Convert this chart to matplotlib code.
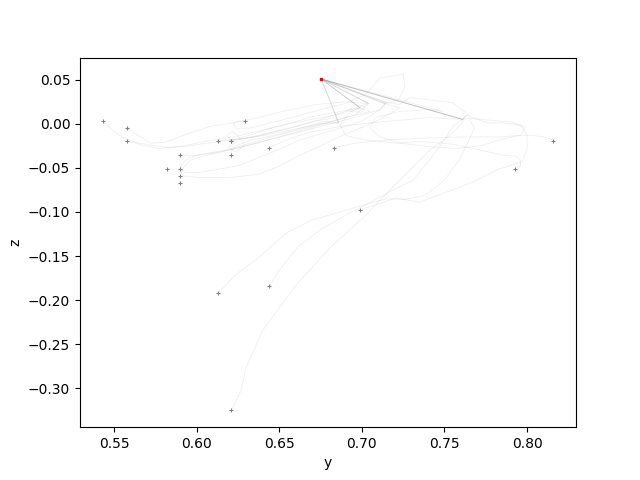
import matplotlib
matplotlib.use("Agg")
import matplotlib.pyplot as plt

# goal point (red)
goal_y = 0.6754
goal_z = 0.0508

# trajectories (y, z), each starts at a "+" marker and ends with a jump to the goal
path_y = [
    [0.543, 0.553, 0.566, 0.578, 0.592, 0.608, 0.622, 0.638, 0.655, 0.670, 0.687, 0.699],
    [0.558, 0.566, 0.572, 0.581, 0.592, 0.608, 0.622, 0.635, 0.652, 0.673, 0.690, 0.704],
    [0.558, 0.572, 0.582, 0.592, 0.606, 0.622, 0.638, 0.657, 0.675, 0.686],
    [0.582, 0.590, 0.593, 0.602, 0.612, 0.626, 0.646, 0.663, 0.683, 0.699, 0.711, 0.715],
    [0.590, 0.599, 0.611, 0.626, 0.644, 0.663, 0.681, 0.693, 0.711, 0.714],
    [0.590, 0.592, 0.595, 0.602, 0.617, 0.635, 0.653, 0.672, 0.690, 0.705, 0.699],
    [0.590, 0.602, 0.620, 0.638, 0.650, 0.663, 0.675, 0.687, 0.699, 0.711, 0.723, 0.714],
    [0.590, 0.590, 0.592, 0.596, 0.608, 0.626, 0.644, 0.663, 0.681, 0.696, 0.704],
    [0.613, 0.623, 0.632, 0.641, 0.656, 0.675, 0.690, 0.696, 0.702, 0.700, 0.693, 0.699],
    [0.621, 0.618, 0.622, 0.626, 0.629, 0.624, 0.619, 0.626, 0.638, 0.657, 0.675, 0.690, 0.704],
    [0.621, 0.635, 0.653, 0.672, 0.684, 0.686],
    [0.621, 0.621, 0.624, 0.632, 0.647, 0.663, 0.678, 0.686],
    [0.629, 0.625, 0.622, 0.624, 0.632, 0.647, 0.663, 0.675, 0.690, 0.702, 0.711, 0.725, 0.726, 0.722, 0.714],
    [0.644, 0.655, 0.667, 0.687, 0.705, 0.723, 0.741, 0.761],
    [0.683, 0.696, 0.717, 0.741, 0.760, 0.784, 0.796, 0.799, 0.790, 0.772, 0.765, 0.761],
    [0.699, 0.711, 0.721, 0.735, 0.752, 0.766, 0.782, 0.797, 0.800, 0.800, 0.796, 0.784,
     0.776, 0.766, 0.755, 0.741, 0.729, 0.723, 0.715],
    [0.613, 0.623, 0.638, 0.655, 0.670, 0.687, 0.699, 0.715, 0.726, 0.738, 0.750, 0.759,
     0.765, 0.768, 0.764, 0.761],
    [0.644, 0.650, 0.661, 0.675, 0.690, 0.702, 0.719, 0.731, 0.741, 0.750, 0.756, 0.761],
    [0.621, 0.627, 0.630, 0.640, 0.661, 0.681, 0.701, 0.717, 0.731, 0.741, 0.752, 0.760, 0.763, 0.761],
    [0.793, 0.796, 0.796, 0.793, 0.784, 0.772, 0.755, 0.735, 0.721, 0.701, 0.690, 0.687, 0.693, 0.699],
    [0.816, 0.811, 0.802, 0.793, 0.784, 0.772, 0.757, 0.741, 0.723, 0.711, 0.705, 0.708, 0.723, 0.741, 0.749],
]
path_z = [
    [0.003, -0.013, -0.024, -0.028, -0.025, -0.019, -0.015, -0.008, 0.000, 0.008, 0.014, 0.018],
    [-0.005, -0.015, -0.022, -0.021, -0.013, -0.003, 0.001, 0.006, 0.014, 0.022, 0.025, 0.023],
    [-0.020, -0.024, -0.027, -0.026, -0.022, -0.018, -0.014, -0.007, 0.000, 0.001],
    [-0.051, -0.052, -0.055, -0.055, -0.052, -0.047, -0.032, -0.018, -0.007, 0.002, 0.016, 0.024],
    [-0.035, -0.036, -0.033, -0.027, -0.018, -0.009, 0.000, 0.006, 0.016, 0.023],
    [-0.051, -0.044, -0.039, -0.035, -0.030, -0.021, -0.011, -0.002, 0.007, 0.014, 0.018],
    [-0.059, -0.061, -0.061, -0.057, -0.048, -0.035, -0.025, -0.014, -0.005, 0.005, 0.018, 0.023],
    [-0.067, -0.060, -0.050, -0.041, -0.035, -0.027, -0.018, -0.008, 0.002, 0.010, 0.023],
    [-0.019, -0.018, -0.013, -0.007, 0.000, 0.007, 0.012, 0.022, 0.019, 0.013, 0.014, 0.018],
    [-0.019, -0.013, -0.009, -0.016, -0.024, -0.032, -0.027, -0.018, -0.013, -0.005, 0.005, 0.014, 0.023],
    [-0.019, -0.015, -0.006, 0.003, 0.007, 0.001],
    [-0.035, -0.030, -0.025, -0.019, -0.013, -0.005, 0.003, 0.001],
    [0.003, 0.003, 0.000, -0.005, -0.005, 0.002, 0.010, 0.016, 0.023, 0.033, 0.052, 0.056, 0.041, 0.027, 0.023],
    [-0.027, -0.018, -0.010, -0.003, 0.001, 0.004, 0.007, 0.005],
    [-0.027, -0.022, -0.018, -0.016, -0.015, -0.015, -0.013, -0.004, 0.002, 0.005, 0.006, 0.005],
    [-0.098, -0.090, -0.084, -0.089, -0.077, -0.067, -0.052, -0.043, -0.029, -0.012, -0.001, 0.001,
     0.001, 0.008, 0.024, 0.027, 0.030, 0.022, 0.024],
    [-0.192, -0.172, -0.151, -0.123, -0.109, -0.100, -0.093, -0.085, -0.086, -0.081, -0.064, -0.041,
     -0.018, -0.005, 0.010, 0.005],
    [-0.184, -0.166, -0.140, -0.120, -0.104, -0.092, -0.075, -0.064, -0.041, -0.018, -0.001, 0.005],
    [-0.325, -0.302, -0.276, -0.234, -0.181, -0.140, -0.106, -0.075, -0.049, -0.030, -0.015, -0.001, 0.010, 0.005],
    [-0.051, -0.047, -0.041, -0.037, -0.035, -0.030, -0.023, -0.020, -0.022, -0.018, -0.013, -0.001, 0.014, 0.018],
    [-0.019, -0.015, -0.013, -0.014, -0.018, -0.025, -0.028, -0.026, -0.022, -0.015, -0.005, 0.007, 0.014, 0.016, 0.014],
]

fig, ax = plt.subplots(figsize=(6.4, 4.8), dpi=100)

for ys, zs in zip(path_y, path_z):
    ax.plot(ys + [goal_y], zs + [goal_z], color="0.5", alpha=0.13, linewidth=0.6)
    ax.plot(ys[0], zs[0], "+", color="0.5", markersize=3, markeredgewidth=0.8)

ax.plot(goal_y, goal_z, "s", color="red", markersize=2)

ax.set_xlabel("y")
ax.set_ylabel("z")

plt.savefig("out.png")
